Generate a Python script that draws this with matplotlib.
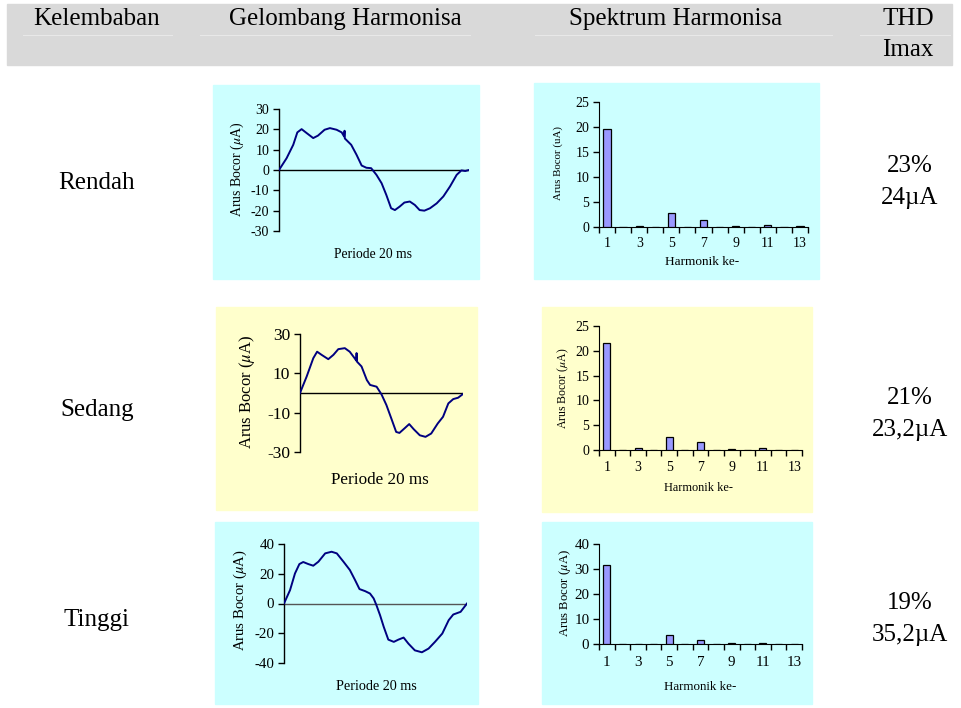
import numpy as np
import matplotlib
matplotlib.use("Agg")
import matplotlib.pyplot as plt
from matplotlib.patches import Rectangle
from matplotlib.lines import Line2D

plt.rcParams['font.family'] = ['Liberation Serif', 'DejaVu Serif']
plt.rcParams['mathtext.fontset'] = 'stix'
plt.rcParams['axes.unicode_minus'] = False

# --- data ---
kelembaban = ["Rendah", "Sedang", "Tinggi"]
thd = ["23%", "21%", "19%"]
imax = ["24\u00b5A", "23,2\u00b5A", "35,2\u00b5A"]

# waveform samples (time in ms over one 20 ms period, current in uA)
t_rendah = [0, 0.8, 1.5, 1.93, 2.38, 2.9, 3.6, 4.1, 4.8, 5.36, 6.06, 6.6, 6.85, 6.9, 6.93,
            7.6, 8.16, 8.7, 9.2, 9.7, 10.26, 10.8, 11.3, 11.8, 12.2, 12.7, 13.2, 13.77,
            14.3, 14.8, 15.3, 15.9, 16.6, 17.3, 18.0, 18.7, 19.2, 19.6, 20]
i_rendah = [0, 5.8, 12.4, 18.5, 20.1, 18.2, 15.7, 16.9, 19.8, 20.6, 19.8, 18.5, 16.5, 19.3, 15.5,
            12.4, 7.5, 2.2, 1.1, 0.9, -2.4, -6.5, -12.3, -18.8, -19.7, -18.0, -16.0, -15.5,
            -17.2, -19.7, -20.0, -18.8, -16.4, -13.0, -8.1, -2.4, -0.2, -0.5, 0]

t_sedang = [0, 0.82, 1.63, 2.1, 2.65, 3.47, 4.1, 4.7, 5.5, 6.1, 6.7, 6.9, 6.94, 6.98,
            7.55, 8.2, 8.6, 9.4, 10.0, 10.6, 11.2, 11.8, 12.2, 12.9, 13.4, 13.95, 14.7,
            15.4, 16.1, 16.9, 17.55, 18.2, 18.8, 19.4, 20]
i_sedang = [0, 8.4, 17.7, 21.0, 19.4, 17.2, 19.4, 22.3, 22.8, 21.0, 17.7, 16.5, 20.3, 16.0,
            13.5, 6.6, 4.1, 3.2, -0.7, -6.1, -12.9, -19.8, -20.3, -17.7, -15.8, -18.4, -21.5,
            -22.3, -20.6, -15.5, -12.1, -5.3, -3.1, -2.4, -0.5]

t_tinggi = [0, 0.66, 1.2, 1.68, 2.1, 2.66, 3.2, 3.76, 4.5, 5.2, 5.77, 6.5, 7.2, 7.77, 8.25,
            8.87, 9.4, 9.8, 10.1, 10.5, 10.9, 11.4, 12.0, 12.5, 13.07, 13.6, 14.3, 15.07,
            15.8, 16.5, 17.3, 18.0, 18.5, 19.3, 20]
i_tinggi = [0, 9.0, 20.2, 26.5, 27.9, 26.5, 25.4, 28.1, 33.7, 34.8, 33.7, 28.1, 22.5, 15.7, 9.7,
            8.3, 6.7, 3.4, -1.1, -7.9, -15.7, -24.3, -25.8, -24.3, -22.9, -27.0, -31.5, -32.8,
            -30.3, -25.8, -20.2, -11.2, -7.4, -5.6, 0]

harmonik = list(range(1, 14))
spek_rendah = [19.6, 0, 0.2, 0, 2.8, 0, 1.5, 0, 0.2, 0, 0.4, 0, 0.2]
spek_sedang = [21.6, 0, 0.4, 0, 2.7, 0, 1.6, 0, 0.2, 0, 0.4, 0, 0]
spek_tinggi = [31.6, 0, 0, 0, 3.6, 0, 1.5, 0, 0.3, 0, 0.3, 0, 0]

W, H = 961, 708
CYAN = '#CCFFFF'
YELLOW = '#FFFFCC'


def fx(x):
    return x / W


def fy(y):
    return 1 - y / H


def box(x0, y0, x1, y1):
    return [x0 / W, 1 - y1 / H, (x1 - x0) / W, (y1 - y0) / H]


def panel(x0, y0, x1, y1, color):
    fig.patches.append(Rectangle((fx(x0), fy(y1)), (x1 - x0) / W, (y1 - y0) / H,
                                 transform=fig.transFigure, color=color, zorder=-1))


def ptext(x, y, s, size, **kw):
    fig.text(fx(x), fy(y), s, fontsize=size, ha='center', va='center', **kw)


def wave(bx, t, i, ylim, yticks, fs, zcolor, ylab_xy, ylab_fs, xlab_xy, xlab_fs):
    ax = fig.add_axes(box(*bx))
    ax.set_facecolor('none')
    ax.plot(t, i, color='#000080', lw=1.4, zorder=3)
    ax.axhline(0, color=zcolor, lw=1.0, zorder=2)
    ax.set_xlim(0, 20)
    ax.set_ylim(ylim)
    ax.set_yticks(yticks)
    ax.set_xticks([])
    for s in ['top', 'right', 'bottom']:
        ax.spines[s].set_visible(False)
    ax.spines['left'].set_linewidth(1.0)
    ax.tick_params(axis='y', direction='out', length=4, width=1, labelsize=fs, pad=3)
    ptext(*ylab_xy, 'Arus Bocor ($\\mu$A)', ylab_fs, rotation=90)
    ptext(*xlab_xy, 'Periode 20 ms', xlab_fs)
    return ax


def spectrum(bx, vals, ylim, yticks, fs, ylab, ylab_xy, ylab_fs, xlab_xy, xlab_fs, xpad):
    ax = fig.add_axes(box(*bx))
    ax.set_facecolor('none')
    ax.bar(harmonik, vals, width=0.45, color='#9999FF', edgecolor='black', lw=0.9, zorder=3)
    ax.set_xlim(0.5, 13.5)
    ax.set_ylim(ylim)
    ax.set_yticks(yticks)
    ax.set_xticks([h - 0.5 for h in harmonik] + [harmonik[-1] + 0.5])
    ax.set_xticklabels([])
    ax.set_xticks(harmonik[::2], minor=True)
    ax.set_xticklabels([str(h) for h in harmonik[::2]], minor=True)
    ax.tick_params(axis='x', which='major', direction='out', length=4, width=1)
    ax.tick_params(axis='x', which='minor', length=0, labelsize=fs, pad=xpad)
    ax.tick_params(axis='y', direction='out', length=4, width=1, labelsize=fs, pad=3)
    for s in ['top', 'right']:
        ax.spines[s].set_visible(False)
    ptext(*ylab_xy, ylab, ylab_fs, rotation=90)
    ptext(*xlab_xy, 'Harmonik ke-', xlab_fs)
    return ax


fig = plt.figure(figsize=(9.61, 7.08), dpi=100)

# header band
panel(7, 4, 952, 65, '#D9D9D9')
for x0, x1 in [(23, 172), (200, 470), (535, 832), (860, 950)]:
    fig.add_artist(Line2D([fx(x0), fx(x1)], [fy(35), fy(35)], color='#E8E8E8', lw=0.8,
                          transform=fig.transFigure))
ptext(97, 19, 'Kelembaban', 18)
ptext(345, 19, 'Gelombang Harmonisa', 18)
ptext(676, 19, 'Spektrum Harmonisa', 18)
ptext(908, 19, 'THD', 18)
ptext(908, 50, 'Imax', 18)

# background panels
panel(213, 85, 479, 279, CYAN)
panel(534, 83, 819, 279, CYAN)
panel(216, 307, 477, 510, YELLOW)
panel(542, 307, 812, 512, YELLOW)
panel(215, 522, 478, 704, CYAN)
panel(542, 522, 812, 704, CYAN)

# row texts
row_y = [183, 410, 620]
thd_y = [166, 398, 603]
for k in range(3):
    ptext(97, row_y[k], kelembaban[k], 18)
    ptext(910, thd_y[k], thd[k], 18)
    ptext(910, thd_y[k] + 32, imax[k], 18)

# waveforms
wave((279, 109, 469, 231), t_rendah, i_rendah, (-30, 30), [-30, -20, -10, 0, 10, 20, 30],
     10, 'black', (237, 169), 10, (373, 255), 9.8)
wave((300, 334, 463, 452), t_sedang, i_sedang, (-30, 30), [-30, -10, 10, 30],
     12.5, 'black', (247, 392), 12, (380, 480), 12.3)
wave((284, 544, 467, 663), t_tinggi, i_tinggi, (-40, 40), [-40, -20, 0, 20, 40],
     10.8, '#555555', (240, 600), 10.6, (376, 687), 10.2)

# spectra
spectrum((599, 102, 808, 227), spek_rendah, (0, 25), [0, 5, 10, 15, 20, 25], 10,
         'Arus Bocor (uA)', (558, 163), 7.8, (702, 262), 9.5, 7)
spectrum((599, 326, 802, 450), spek_sedang, (0, 25), [0, 5, 10, 15, 20, 25], 10,
         'Arus Bocor ($\\mu$A)', (563, 388), 8.5, (698, 488), 8.8, 8)
spectrum((599, 544, 802, 644), spek_tinggi, (0, 40), [0, 10, 20, 30, 40], 10.8,
         'Arus Bocor ($\\mu$A)', (565, 593), 9.2, (700, 687), 9.4, 9)

fig.savefig("out.png", dpi=100)
